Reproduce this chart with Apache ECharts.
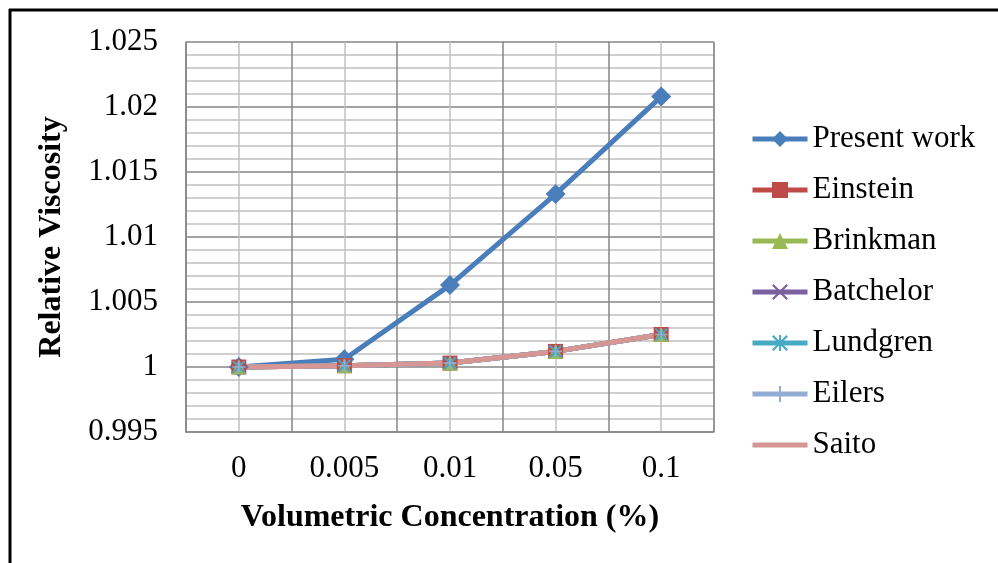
<!DOCTYPE html>
<html>
<head>
<meta charset="utf-8">
<script src="https://cdn.jsdelivr.net/npm/echarts@6/dist/echarts.min.js"></script>
<style>
  html, body { margin: 0; padding: 0; background: #fff; }
  #chart { width: 998px; height: 563px; }
</style>
</head>
<body>
<div id="chart"></div>
<script>
const categories = ['0', '0.005', '0.01', '0.05', '0.1']

const presentWork = [1.0, 1.0006, 1.0063, 1.0133, 1.0208]
const einstein = [1.0, 1.0001, 1.0003, 1.0012, 1.0025]
const brinkman = [1.0, 1.0001, 1.0003, 1.0012, 1.0025]
const batchelor = [1.0, 1.0001, 1.0003, 1.0012, 1.0025]
const lundgren = [1.0, 1.0001, 1.0003, 1.0012, 1.0025]
const eilers = [1.0, 1.0001, 1.0003, 1.0012, 1.0025]
const saito = [1.0, 1.0001, 1.0003, 1.0012, 1.0025]

const legendNames = ['Present work', 'Einstein', 'Brinkman', 'Batchelor', 'Lundgren', 'Eilers', 'Saito']

const FONT = '"Liberation Serif", "Times New Roman", serif'
const FS = 31

// line-only marker shapes as thin filled paths
const xMark = 'path://M1,0L10,9L9,10L0,1Z M9,0L10,1L1,10L0,9Z'
const starMark = 'path://M1,0L10,9L9,10L0,1Z M9,0L10,1L1,10L0,9Z M4.4,0L5.6,0L5.6,10L4.4,10Z'
const plusMark = 'path://M4.4,0L5.6,0L5.6,10L4.4,10Z M0,4.4L10,4.4L10,5.6L0,5.6Z'

const mk = (name, data, color, symbol, size) => ({
  name,
  type: 'line',
  data,
  symbol,
  symbolSize: size,
  showSymbol: symbol !== 'none',
  lineStyle: { color, width: 5 },
  itemStyle: { color },
  animation: false,
})

const chart = echarts.init(document.getElementById('chart'))

chart.setOption({
  backgroundColor: '#fff',
  textStyle: { fontFamily: FONT },
  grid: { left: 186, right: 284, top: 42, bottom: 131 },
  legend: {
    orient: 'vertical',
    left: 745,
    top: 117,
    itemWidth: 55,
    itemHeight: 20,
    itemGap: 17,
    lineStyle: { width: 5 },
    textStyle: { fontFamily: FONT, fontSize: FS, color: '#000', lineHeight: 34 },
    data: legendNames.map((n) => (n === 'Saito' ? { name: n, itemStyle: { opacity: 0 } } : n)),
  },
  xAxis: [
    {
      type: 'category',
      data: categories,
      boundaryGap: true,
      name: 'Volumetric Concentration (%)',
      nameLocation: 'middle',
      nameGap: 70,
      nameTextStyle: { fontFamily: FONT, fontSize: 32, fontWeight: 'bold', color: '#000' },
      axisLine: { lineStyle: { color: '#868686', width: 1.5 } },
      axisTick: { show: false },
      axisLabel: { fontFamily: FONT, fontSize: FS, color: '#000', margin: 21 },
      splitLine: { show: true, lineStyle: { color: '#868686', width: 1.5 } },
      z: 3,
    },
    {
      // invisible half-step axis: light lines through the category centres
      type: 'category',
      data: ['', '', '', '', '', '', '', '', '', ''],
      boundaryGap: true,
      position: 'bottom',
      axisLine: { show: false },
      axisTick: { show: false },
      axisLabel: { show: false },
      splitLine: {
        show: true,
        interval: (i) => i % 2 === 1,
        lineStyle: { color: '#c0c0c0', width: 1.5 },
      },
      z: 1,
    },
  ],
  yAxis: {
    type: 'value',
    min: 0.995,
    max: 1.025,
    interval: 0.005,
    name: 'Relative Viscosity',
    nameLocation: 'middle',
    nameGap: 118,
    nameTextStyle: { fontFamily: FONT, fontSize: 32, fontWeight: 'bold', color: '#000' },
    axisLine: { show: true, lineStyle: { color: '#868686', width: 1.5 } },
    axisTick: { show: false },
    axisLabel: {
      fontFamily: FONT,
      fontSize: FS,
      color: '#000',
      margin: 28,
      formatter: (v) => String(parseFloat(v.toFixed(3))),
    },
    splitLine: { show: true, lineStyle: { color: '#868686', width: 1.5 } },
    minorTick: { show: false, splitNumber: 5 },
    minorSplitLine: { show: true, lineStyle: { color: '#c0c0c0', width: 1.5 } },
  },
  graphic: [
    { type: 'line', shape: { x1: 9, y1: 10, x2: 998, y2: 10 }, style: { stroke: '#000', lineWidth: 3 }, silent: true },
    { type: 'line', shape: { x1: 10, y1: 9, x2: 10, y2: 563 }, style: { stroke: '#000', lineWidth: 3 }, silent: true },
  ],
  series: [
    mk('Present work', presentWork, '#4A7EBB', 'diamond', 20),
    mk('Einstein', einstein, '#BE4B48', 'rect', 15),
    mk('Brinkman', brinkman, '#98B954', 'triangle', 15),
    mk('Batchelor', batchelor, '#7D60A0', xMark, 13),
    mk('Lundgren', lundgren, '#46AAC5', starMark, 13),
    mk('Eilers', eilers, '#93ACD3', plusMark, 13),
    mk('Saito', saito, '#D69694', 'none', 0),
  ],
})
</script>
</body>
</html>
